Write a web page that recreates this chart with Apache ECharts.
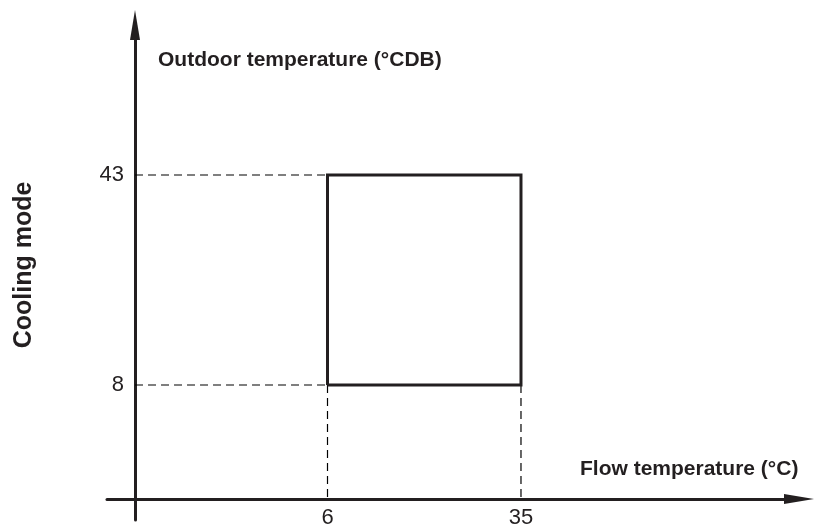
<!DOCTYPE html>
<html>
<head>
<meta charset="utf-8">
<script src="https://cdn.jsdelivr.net/npm/echarts@6/dist/echarts.min.js"></script>
<style>html,body{margin:0;padding:0;background:#fff}#c{width:819px;height:530px}</style>
</head>
<body>
<div id="c"></div>
<script>
// Data
const xTickValues = [6, 35];
const yTickValues = [8, 43];
const boxX = [6, 35];     // flow temperature range (°C)
const boxY = [8, 43];     // outdoor temperature range (°CDB)
const xRange = [-27.05, 76.67];
const yRange = [-14.5, 68];
const originX = -22.85;   // where the vertical axis crosses
const originY = -11;      // where the horizontal axis crosses

const ink = '#231f20';
const font = "'Liberation Sans', Arial, sans-serif";

const boxData = [[boxX[0], boxY[0]], [boxX[0], boxY[1]], [boxX[1], boxY[1]], [boxX[1], boxY[0]], [boxX[0], boxY[0]]];
const dashStyle = {color: '#000', width: 1.2, type: [8, 5]};
function dashed(data) {
  return {type: 'line', data: data, symbol: 'none', silent: true, lineStyle: dashStyle, z: 1, animation: false};
}

const chart = echarts.init(document.getElementById('c'), null, {renderer: 'canvas'});
chart.setOption({
  animation: false,
  grid: {left: 107, top: 25, width: 692, height: 495, containLabel: false},
  xAxis: {
    type: 'value', min: xRange[0], max: xRange[1], offset: -21,
    axisLine: {show: true, onZero: false, lineStyle: {color: ink, width: 3}, symbol: ['none', 'triangle'], symbolSize: [10, 30]},
    axisTick: {show: false}, splitLine: {show: false},
    axisLabel: {customValues: xTickValues, color: ink, fontSize: 22, fontFamily: font, margin: 8}
  },
  yAxis: {
    type: 'value', min: yRange[0], max: yRange[1], offset: -28,
    axisLine: {show: true, onZero: false, lineStyle: {color: ink, width: 3}, symbol: ['none', 'triangle'], symbolSize: [10, 30]},
    axisTick: {show: false}, splitLine: {show: false},
    axisLabel: {customValues: yTickValues, color: ink, fontSize: 22, fontFamily: font, margin: 11}
  },
  series: [
    dashed([[originX, boxY[1]], [boxX[0], boxY[1]]]),
    dashed([[originX, boxY[0]], [boxX[0], boxY[0]]]),
    dashed([[boxX[0], boxY[0]], [boxX[0], originY]]),
    dashed([[boxX[1], boxY[0]], [boxX[1], originY]]),
    {type: 'line', data: boxData, symbol: 'none', silent: true, z: 3,
     lineStyle: {color: ink, width: 3, join: 'miter'}}
  ],
  graphic: [
    {type: 'text', left: 158, top: 50, style: {text: 'Outdoor temperature (°CDB)', fill: ink, font: 'bold 21px ' + font}},
    {type: 'text', left: 580, top: 459, style: {text: 'Flow temperature (°C)', fill: ink, font: 'bold 21px ' + font}},
    {type: 'text', x: 24, y: 265, rotation: Math.PI / 2,
     style: {text: 'Cooling mode', fill: ink, font: 'bold 25px ' + font, align: 'center', verticalAlign: 'middle'}}
  ]
});
</script>
</body>
</html>
